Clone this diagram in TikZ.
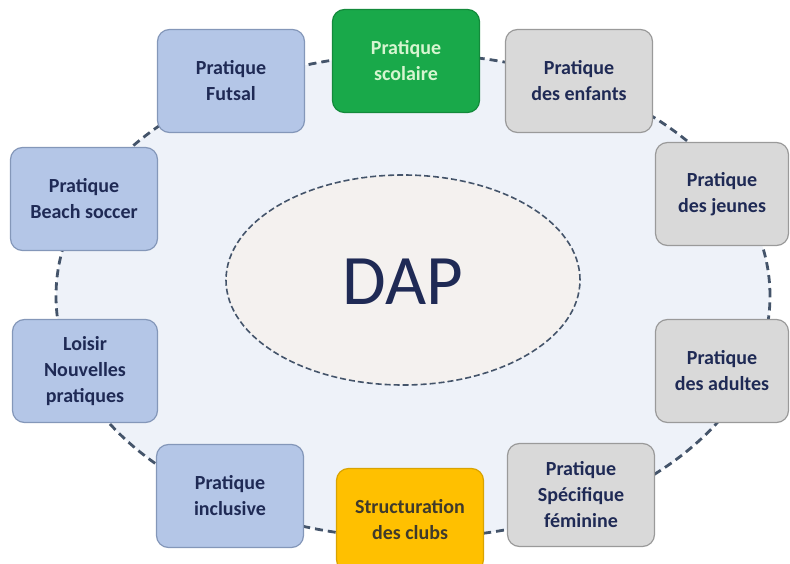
\documentclass[tikz,border=0pt]{standalone}
\usepackage{fontspec}
\setmainfont{Carlito}
\usetikzlibrary{shapes.geometric}
\definecolor{navy}{HTML}{1F2A55}
\definecolor{ringfill}{HTML}{EEF2F9}
\definecolor{ringline}{HTML}{44546A}
\definecolor{corefill}{HTML}{F4F1EF}
\definecolor{boxblue}{HTML}{B4C6E7}
\definecolor{boxblueline}{HTML}{8497B9}
\definecolor{boxgray}{HTML}{D9D9D9}
\definecolor{boxgrayline}{HTML}{9A9A9A}
\definecolor{boxgreen}{HTML}{19A94A}
\definecolor{boxgreenline}{HTML}{138A3B}
\definecolor{greentext}{HTML}{D6F5D0}
\definecolor{boxyellow}{HTML}{FFC000}
\definecolor{boxyellowline}{HTML}{D9A300}
\definecolor{yellowtext}{HTML}{3F3A2C}
\begin{document}
\begin{tikzpicture}[x=1pt,y=-1pt,
  box/.style={rounded corners=12pt, draw, line width=1.2pt, minimum width=147pt,
    minimum height=103pt, align=center, inner sep=0pt,
    font=\bfseries\fontsize{20}{26}\selectfont, text=navy},
  bluebox/.style={box, fill=boxblue, draw=boxblueline},
  graybox/.style={box, fill=boxgray, draw=boxgrayline},
  greenbox/.style={box, fill=boxgreen, draw=boxgreenline, text=greentext},
  yellowbox/.style={box, fill=boxyellow, draw=boxyellowline, text=yellowtext}]
\useasboundingbox (0,0) rectangle (790,564);
\clip (0,0) rectangle (790,564);
\node[ellipse, draw=ringline, fill=ringfill, line width=2.8pt, dash pattern=on 8pt off 5pt,
  minimum width=714pt, minimum height=484pt, inner sep=0pt] (ring) at (413,296) {};
\node[ellipse, draw=ringline, fill=corefill, line width=1.6pt, dash pattern=on 6pt off 3pt,
  minimum width=354pt, minimum height=210pt, inner sep=0pt] (core) at (403,280) {};
\node[text=navy, font=\fontsize{71}{74}\selectfont] (dap) at (403,282) {DAP};
\node[bluebox] (futsal) at (231,81) {Pratique\\Futsal};
\node[greenbox] (scolaire) at (406,61) {Pratique\\scolaire};
\node[graybox] (enfants) at (579,81) {Pratique\\des enfants};
\node[graybox, minimum width=133pt] (jeunes) at (722,194) {Pratique\\des jeunes};
\node[graybox, minimum width=133pt] (adultes) at (722,371) {Pratique\\des adultes};
\node[graybox] (feminine) at (581,495) {Pratique\\Spécifique\\féminine};
\node[yellowbox] (clubs) at (410,520) {Structuration\\des clubs};
\node[bluebox] (inclusive) at (230,496) {Pratique\\inclusive};
\node[bluebox, minimum width=145pt] (loisir) at (85,371) {Loisir\\Nouvelles\\pratiques};
\node[bluebox] (beach) at (84,199) {Pratique\\Beach soccer};
\end{tikzpicture}
\end{document}
